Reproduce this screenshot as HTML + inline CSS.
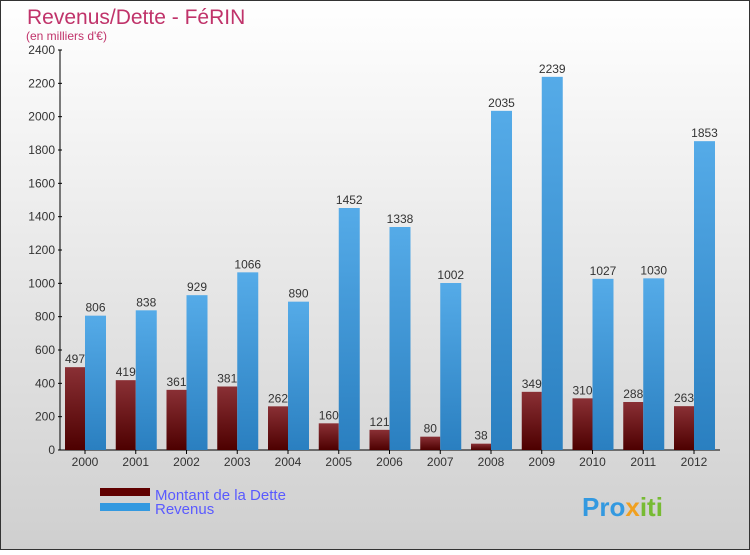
<!DOCTYPE html>
<html><head><meta charset="utf-8"><style>
body{margin:0;width:750px;height:550px;overflow:hidden;font-family:"Liberation Sans",sans-serif}
</style></head><body>
<svg id="c" width="750" height="550" xmlns="http://www.w3.org/2000/svg">
<defs>
<linearGradient id="bg" x1="0" y1="0" x2="0" y2="1"><stop offset="0" stop-color="#ffffff"/><stop offset="1" stop-color="#cfcfcf"/></linearGradient>
<linearGradient id="gd" x1="0" y1="0" x2="0" y2="1"><stop offset="0" stop-color="#8a3035"/><stop offset="1" stop-color="#4d0000"/></linearGradient>
<linearGradient id="gr" x1="0" y1="0" x2="0" y2="1"><stop offset="0" stop-color="#55abe8"/><stop offset="1" stop-color="#2a7fc0"/></linearGradient>
</defs>
<rect x="0.5" y="0.5" width="749" height="549" fill="url(#bg)" stroke="#333"/>
<text x="27" y="24" font-size="21" fill="#c0336a">Revenus/Dette - FéRIN</text>
<text x="26" y="40" font-size="12" fill="#c0336a">(en milliers d'€)</text>
<g id="plot"></g>
<rect x="100" y="488" width="50" height="8" fill="#600000"/>
<text x="155" y="500" font-size="15" fill="#5a5aff">Montant de la Dette</text>
<rect x="100" y="503" width="50" height="8" fill="#3399e0"/>
<text x="155" y="514" font-size="15" fill="#5a5aff">Revenus</text>
<text x="582" y="516" font-size="26" font-weight="bold" fill="#3399e0">Pro<tspan fill="#f0a020">x</tspan><tspan fill="#77bb33">iti</tspan></text>
</svg>
<script>
const years=["2000","2001","2002","2003","2004","2005","2006","2007","2008","2009","2010","2011","2012"];
const dette=[497,419,361,381,262,160,121,80,38,349,310,288,263];
const revenus=[806,838,929,1066,890,1452,1338,1002,2035,2239,1027,1030,1853];
const ticks=[0,200,400,600,800,1000,1200,1400,1600,1800,2000,2200,2400];
const NS="http://www.w3.org/2000/svg";
const g=document.getElementById('plot');
const y=v=>450-v*400/2400;
const xc=i=>85+i*50.75;
function mk(t,a,txt){const e=document.createElementNS(NS,t);for(const k in a)e.setAttribute(k,a[k]);if(txt!==undefined)e.textContent=txt;g.appendChild(e);return e;}
let e=mk('line',{x1:60,y1:50,x2:60,y2:450,stroke:'#000'});


e=mk('line',{x1:60,y1:450,x2:720,y2:450,stroke:'#000'});


ticks.forEach(t=>{
 let l=mk('line',{x1:58,y1:y(t),x2:62,y2:y(t),stroke:'#000'});
 
 
 let s=mk('text',{x:55,y:y(t)+4,'font-size':12,'text-anchor':'end',fill:'#333'},t);
 
 
});
years.forEach((yr,i)=>{
 const c=xc(i);
 let r=mk('rect',{x:c-20,y:y(dette[i]),width:20,height:450-y(dette[i]),fill:'url(#gd)'});
 
 
 let r2=mk('rect',{x:c,y:y(revenus[i]),width:21,height:450-y(revenus[i]),fill:'url(#gr)'});
 
 
 let t1=mk('text',{x:c-10,y:y(dette[i])-4,'font-size':12,'text-anchor':'middle',fill:'#333'},dette[i]);
 
 
 let t2=mk('text',{x:c+10.5,y:y(revenus[i])-4,'font-size':12,'text-anchor':'middle',fill:'#333'},revenus[i]);
 
 
 let tk=mk('line',{x1:c,y1:450,x2:c,y2:454,stroke:'#000'});
 
 
 let xl=mk('text',{x:c,y:466,'font-size':12,'text-anchor':'middle',fill:'#333'},yr);
 
 
});
</script>
</body></html>
